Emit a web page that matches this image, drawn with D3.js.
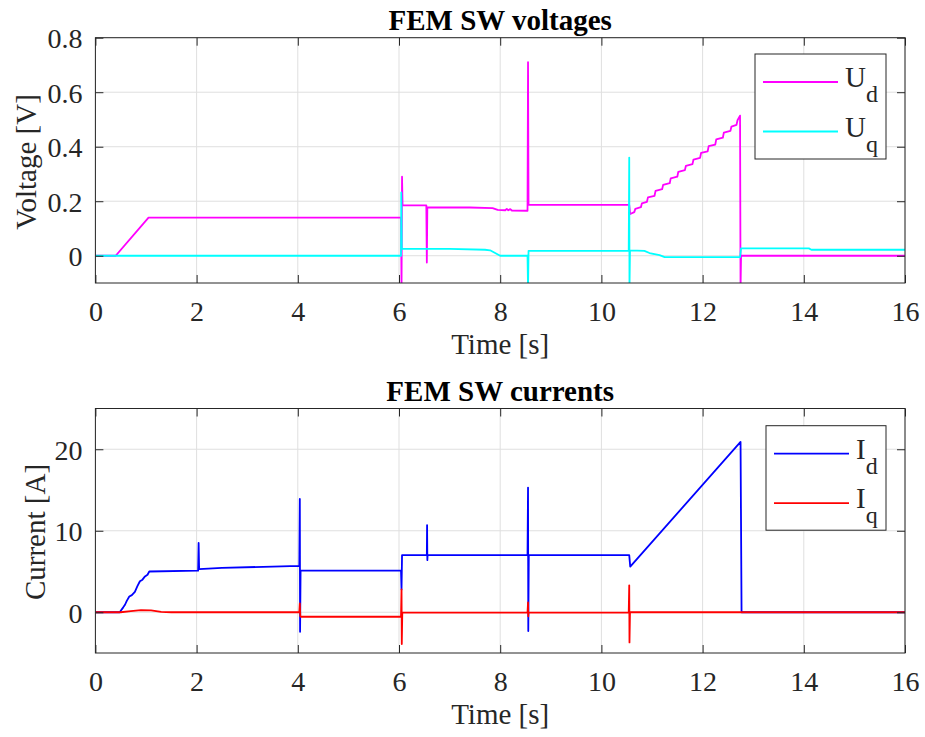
<!DOCTYPE html>
<html lang="en">
<head>
    <meta charset="UTF-8">
    <title>FEM SW voltages and currents</title>
    <script src="https://d3js.org/d3.v7.min.js"></script>
    <style>
        body { margin: 0; background: #fff; }
        svg text { font-family: "Liberation Serif", "Times New Roman", serif; fill: #262626; }
        .grid line { stroke: #dfdfdf; stroke-width: 1; }
        .trace { fill: none; stroke-width: 1.8; stroke-linejoin: round; }
    </style>
</head>
<body>
<script>
    var width = 925;
    var height = 737;

    // time axis ticks (both plots)
    var xTicks = [0, 2, 4, 6, 8, 10, 12, 14, 16];

    // voltage plot
    var uTicks = [0, 0.2, 0.4, 0.6, 0.8];
    var udData = [
        [0, 0], [0.4, 0], [1.05, 0.14], [6.04, 0.14], [6.05, -0.12], [6.06, 0.29], [6.07, 0.185],
        [6.54, 0.185], [6.55, -0.025], [6.56, 0.177], [7.4, 0.177], [7.85, 0.175], [7.95, 0.168],
        [8.1, 0.167], [8.13, 0.172], [8.16, 0.167], [8.2, 0.171], [8.23, 0.166], [8.54, 0.165],
        [8.55, 0.71], [8.56, 0.187], [10.55, 0.187], [10.57, 0.153],
        [10.65, 0.16], [10.67, 0.172], [10.78, 0.178], [10.8, 0.192], [10.9, 0.198], [10.92, 0.214],
        [11.05, 0.22], [11.07, 0.238], [11.2, 0.244], [11.22, 0.26], [11.35, 0.266], [11.37, 0.284],
        [11.5, 0.29], [11.52, 0.308], [11.65, 0.314], [11.67, 0.33], [11.8, 0.336], [11.82, 0.353],
        [11.95, 0.359], [11.97, 0.377], [12.1, 0.383], [12.12, 0.402], [12.25, 0.408], [12.27, 0.427],
        [12.4, 0.433], [12.42, 0.452], [12.55, 0.458], [12.57, 0.474], [12.67, 0.48], [12.69, 0.497],
        [12.74, 0.514], [12.75, -0.12], [12.76, 0], [16, 0]
    ];
    var uqData = [
        [0, 0], [6.04, 0], [6.045, 0.232], [6.055, 0.025], [7.0, 0.025], [7.7, 0.022], [7.8, 0.02],
        [7.9, 0.01], [8.0, 0], [8.54, 0], [8.55, -0.12], [8.56, 0.018], [10.54, 0.018], [10.55, 0.36],
        [10.555, -0.12], [10.565, 0.02], [10.85, 0.018], [10.95, 0.01], [11.15, 0.002], [11.25, -0.005],
        [12.74, -0.005], [12.76, 0.027], [14.1, 0.027], [14.15, 0.022], [16, 0.022]
    ];

    // current plot
    var iTicks = [0, 10, 20];
    var idData = [
        [0, 0], [0.48, 0], [0.55, 0.6], [0.585, 0.92], [0.62, 1.4], [0.67, 1.93], [0.72, 2.1],
        [0.78, 2.5], [0.83, 3.2], [0.88, 3.8], [0.93, 4.0], [0.98, 4.4], [1.03, 4.6], [1.065, 5.0],
        [2.03, 5.1], [2.04, 8.5], [2.05, 5.3], [2.5, 5.45], [3.5, 5.6], [4.03, 5.7], [4.04, 13.9],
        [4.045, -2.4], [4.055, 5.1], [6.04, 5.1], [6.05, 2.8], [6.06, 7.0], [6.55, 7.0], [6.555, 10.7],
        [6.56, 6.4], [6.565, 7.0], [8.54, 7.0], [8.55, 15.3], [8.555, -2.3], [8.565, 7.0],
        [10.55, 7.0], [10.57, 5.6], [12.75, 20.9], [12.77, 0], [16, 0]
    ];
    var iqData = [
        [0, 0], [0.5, 0], [0.7, 0.15], [0.9, 0.25], [1.1, 0.22], [1.3, 0.05], [1.5, 0], [4.03, 0],
        [4.04, 1.1], [4.05, -0.5], [4.06, -0.55], [6.04, -0.55], [6.05, 2.8], [6.055, -3.9],
        [6.065, -0.05], [8.54, -0.05], [8.55, 1.2], [8.555, -0.5], [8.56, -0.05], [10.54, -0.05],
        [10.55, 3.3], [10.555, -3.7], [10.565, 0], [16, 0]
    ];

    var svg = d3.select('body')
        .append('svg')
        .attr('width', width)
        .attr('height', height);

    function drawPlot(cfg) {
        var left = 95.4, right = 905;
        var x = d3.scaleLinear().domain([0, 16]).range([left, right]);
        var y = d3.scaleLinear().domain(cfg.yDomain).range([cfg.bottom, cfg.top]);
        var g = svg.append('g');

        // grid
        var grid = g.append('g').attr('class', 'grid');
        grid.selectAll('.gx').data(xTicks).enter().append('line')
            .attr('x1', function (d) { return x(d); }).attr('x2', function (d) { return x(d); })
            .attr('y1', cfg.top).attr('y2', cfg.bottom);
        grid.selectAll('.gy').data(cfg.yTicks).enter().append('line')
            .attr('y1', function (d) { return y(d); }).attr('y2', function (d) { return y(d); })
            .attr('x1', left).attr('x2', right);

        // traces
        var clipId = 'clip' + cfg.id;
        svg.append('clipPath').attr('id', clipId).append('rect')
            .attr('x', left).attr('y', cfg.top)
            .attr('width', right - left).attr('height', cfg.bottom - cfg.top);
        var line = d3.line()
            .x(function (d) { return x(d[0]); })
            .y(function (d) { return y(d[1]); });
        cfg.series.forEach(function (s) {
            g.append('path')
                .attr('class', 'trace')
                .attr('clip-path', 'url(#' + clipId + ')')
                .attr('stroke', s.color)
                .attr('d', line(s.data));
        });

        // axes, MATLAB style: inward ticks on all four sides
        var tk = 8;
        function style(a) {
            a.attr('font-family', null).attr('font-size', null);
            a.select('.domain').remove();
            a.selectAll('line').attr('stroke', '#262626');
        }
        g.append('g').attr('transform', 'translate(0,' + cfg.bottom + ')')
            .call(d3.axisBottom(x).tickValues(xTicks).tickSizeInner(-tk).tickSizeOuter(0).tickPadding(0).tickFormat(d3.format('d')))
            .call(function (a) {
                style(a);
                a.selectAll('text').attr('y', 38).attr('dy', 0).style('font-size', '28px').attr('fill', '#262626');
            });
        g.append('g').attr('transform', 'translate(0,' + cfg.top + ')')
            .call(d3.axisTop(x).tickValues(xTicks).tickSizeInner(-tk).tickSizeOuter(0).tickFormat(''))
            .call(style);
        g.append('g').attr('transform', 'translate(' + left + ',0)')
            .call(d3.axisLeft(y).tickValues(cfg.yTicks).tickSizeInner(-tk).tickSizeOuter(0).tickFormat(cfg.fmt))
            .call(function (a) {
                style(a);
                a.selectAll('text').attr('x', -13).attr('dy', '0.36em').style('font-size', '28px').attr('fill', '#262626');
            });
        g.append('g').attr('transform', 'translate(' + right + ',0)')
            .call(d3.axisRight(y).tickValues(cfg.yTicks).tickSizeInner(-tk).tickSizeOuter(0).tickFormat(''))
            .call(style);
        g.append('rect')
            .attr('x', left).attr('y', cfg.top)
            .attr('width', right - left).attr('height', cfg.bottom - cfg.top)
            .attr('fill', 'none').attr('stroke', '#262626').attr('stroke-width', 1);

        // labels
        g.append('text')
            .attr('x', (left + right) / 2).attr('y', cfg.top - 8)
            .attr('text-anchor', 'middle')
            .style('font-size', '29px').style('font-weight', 'bold')
            .style('fill', '#000')
            .text(cfg.title);
        g.append('text')
            .attr('x', (left + right) / 2).attr('y', cfg.bottom + 71)
            .attr('text-anchor', 'middle')
            .style('font-size', '29px')
            .text('Time [s]');
        g.append('text')
            .attr('transform', 'translate(' + cfg.ylabelX + ',' + cfg.ylabelY + ') rotate(-90)')
            .attr('text-anchor', 'middle')
            .style('font-size', '29px')
            .text(cfg.ylabel);

        // legend
        var lg = cfg.legend;
        g.append('rect')
            .attr('x', lg.x).attr('y', lg.y).attr('width', lg.w).attr('height', lg.h)
            .attr('fill', '#fff').attr('stroke', '#262626').attr('stroke-width', 1);
        cfg.series.forEach(function (s, i) {
            var ly = lg.y + 28 + i * 49.5;
            g.append('line')
                .attr('x1', lg.x + 8).attr('x2', lg.x + 83)
                .attr('y1', ly).attr('y2', ly)
                .attr('stroke', s.color).attr('stroke-width', 1.8);
            var t = g.append('text').attr('x', lg.x + 90).attr('y', ly + 5).style('font-size', '29px');
            t.append('tspan').text(s.name);
            t.append('tspan').attr('dy', 15).style('font-size', '24px').text(s.sub);
        });
    }

    drawPlot({
        id: 'u',
        top: 37.7, bottom: 283,
        yDomain: [-0.1, 0.8], yTicks: uTicks,
        fmt: function (d) { return d === 0 ? '0' : d3.format('.1f')(d); },
        title: 'FEM SW voltages', ylabel: 'Voltage [V]', ylabelX: 36, ylabelY: 162,
        series: [
            { name: 'U', sub: 'd', color: '#ff00ff', data: udData },
            { name: 'U', sub: 'q', color: '#00ffff', data: uqData }
        ],
        legend: { x: 755, y: 54, w: 131, h: 105 }
    });

    drawPlot({
        id: 'i',
        top: 408.5, bottom: 653,
        yDomain: [-5, 25], yTicks: iTicks,
        fmt: d3.format('d'),
        title: 'FEM SW currents', ylabel: 'Current [A]', ylabelX: 45, ylabelY: 532,
        series: [
            { name: 'I', sub: 'd', color: '#0000ff', data: idData },
            { name: 'I', sub: 'q', color: '#ff0000', data: iqData }
        ],
        legend: { x: 766, y: 425.7, w: 120, h: 104.5 }
    });
</script>
</body>
</html>
